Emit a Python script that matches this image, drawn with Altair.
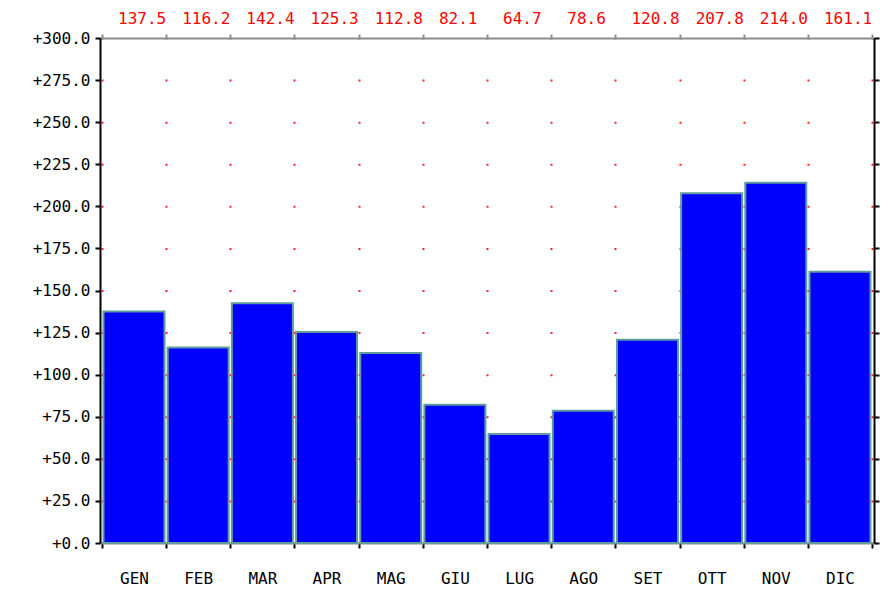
import altair as alt
import pandas as pd

months = ["GEN", "FEB", "MAR", "APR", "MAG", "GIU", "LUG", "AGO", "SET", "OTT", "NOV", "DIC"]
values = [137.5, 116.2, 142.4, 125.3, 112.8, 82.1, 64.7, 78.6, 120.8, 207.8, 214.0, 161.1]
y_ticks = [0, 25, 50, 75, 100, 125, 150, 175, 200, 225, 250, 275, 300]

df = pd.DataFrame({"month": months, "value": values})

FONT = "DejaVu Sans Mono"
H = 505
STEP = H / 12.0

xscale = alt.Scale(paddingInner=0, paddingOuter=0.03)
yscale = alt.Scale(domain=[0, 300], nice=False, zero=True)

base = alt.Chart(df)

bars = base.mark_bar(
    color="#0000ff", stroke="#5f9c9c", strokeWidth=2, width={"band": 0.95}
).encode(
    x=alt.X("month:N", sort=months, scale=xscale, title=None,
            axis=alt.Axis(orient="bottom", labelAngle=0, tickBand="extent",
                          grid=True, gridColor="#ff2020", gridWidth=2,
                          gridDash=[2, STEP - 2], gridDashOffset=1,
                          domainColor="#8c8c8c", domainWidth=2,
                          tickColor="#000000", tickSize=5, tickWidth=2,
                          labelFont=FONT, labelFontSize=16, labelColor="#000000",
                          labelPadding=22, labelBaseline="top")),
    y=alt.Y("value:Q", scale=yscale, title=None,
            axis=alt.Axis(orient="left", values=y_ticks, format="+.1f", grid=False,
                          domainColor="#000000", domainWidth=2,
                          tickColor="#000000", tickSize=5, tickWidth=2,
                          labelFont=FONT, labelFontSize=16, labelColor="#000000",
                          labelPadding=5)),
)

frame = base.mark_bar(opacity=0).encode(
    x=alt.X("month:N", sort=months, scale=xscale, title=None,
            axis=alt.Axis(orient="top", labels=False, tickBand="extent", grid=False,
                          domainColor="#8c8c8c", domainWidth=2,
                          tickColor="#8c8c8c", tickSize=4, tickWidth=2)),
    y=alt.Y("value:Q", scale=yscale, title=None,
            axis=alt.Axis(orient="right", values=y_ticks, labels=False, grid=False,
                          domainColor="#000000", domainWidth=2,
                          tickColor="#000000", tickSize=5, tickWidth=2)),
)

labels = base.mark_text(
    font=FONT, fontSize=16, color="#ff0000", align="left", baseline="middle", dx=-16
).encode(
    x=alt.X("month:N", sort=months, scale=xscale, axis=None),
    y=alt.value(-19),
    text=alt.Text("value:Q", format=".1f"),
)

chart = alt.layer(bars, frame, labels).resolve_axis(
    x="independent", y="independent"
).properties(
    width=774, height=H,
    autosize=alt.AutoSizeParams(type="none"),
    padding={"left": 92, "top": 30, "right": 9, "bottom": 45},
).configure_view(strokeWidth=0)

chart.save("out.html", embed_options={"renderer": "svg", "actions": False})
